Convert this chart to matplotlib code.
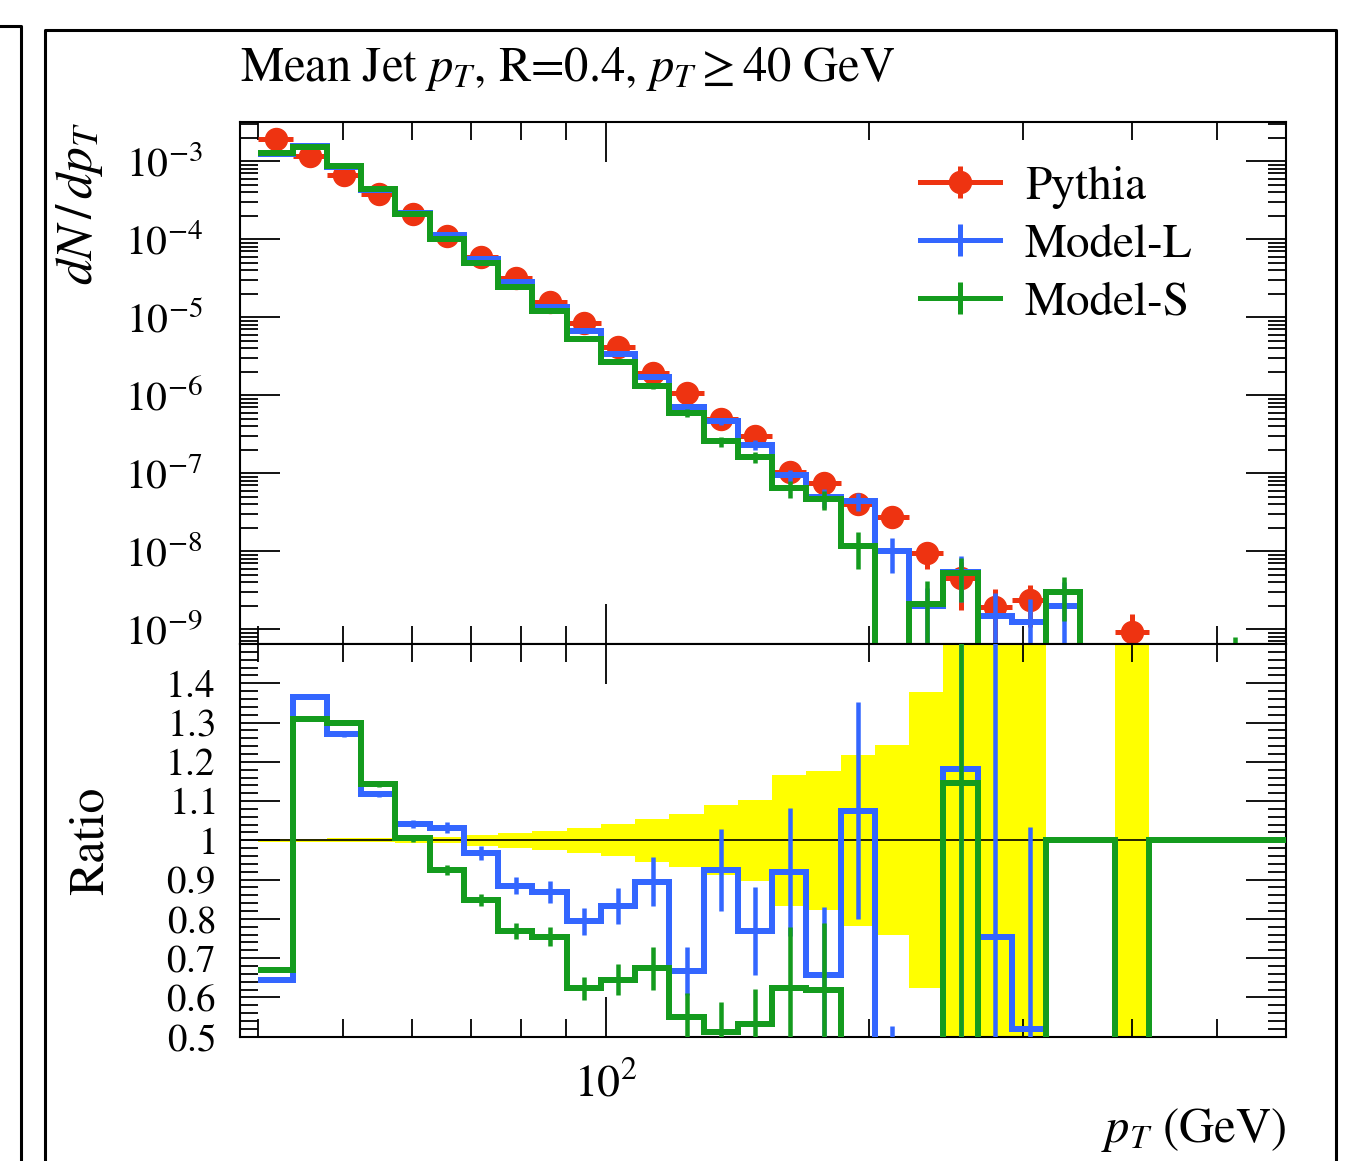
import numpy as np
import matplotlib
matplotlib.use("Agg")
import matplotlib.pyplot as plt
from matplotlib.lines import Line2D
from matplotlib.ticker import LogLocator, NullFormatter, FixedLocator, FixedFormatter, MultipleLocator

plt.rcParams['font.family'] = ['STIXGeneral', 'DejaVu Serif']
plt.rcParams['mathtext.fontset'] = 'stix'

# 30 log bins in jet pT, 40-600 GeV
edges = np.geomspace(40, 600, 31)

pythia = [1.94e-3, 1.16e-3, 6.63e-4, 3.82e-4, 2.12e-4, 1.11e-4, 5.88e-5, 3.20e-5,
          1.58e-5, 8.47e-6, 4.12e-6, 1.94e-6, 1.08e-6, 5.03e-7, 3.04e-7, 1.03e-7,
          7.53e-8, 4.09e-8, 2.79e-8, 9.6e-9, 4.6e-9, 1.95e-9, 2.41e-9, 0, 0,
          9.4e-10, 0, 0, 0, 0]
pythia_err = [7.8e-6, 4.6e-6, 3.3e-6, 1.9e-6, 1.27e-6, 8.9e-7, 8.0e-7, 6.1e-7,
              3.95e-7, 2.63e-7, 1.69e-7, 1.07e-7, 7.2e-8, 4.5e-8, 3.16e-8, 1.71e-8,
              1.33e-8, 8.9e-9, 6.75e-9, 3.62e-9, 2.8e-9, 1.3e-9, 1.33e-9, 0, 0,
              6.4e-10, 0, 0, 0, 0]

model_l = [1.251e-3, 1.582e-3, 8.42e-4, 4.27e-4, 2.21e-4, 1.146e-4, 5.69e-5, 2.83e-5,
           1.371e-5, 6.72e-6, 3.43e-6, 1.736e-6, 7.20e-7, 4.65e-7, 2.34e-7, 9.46e-8,
           4.94e-8, 4.40e-8, 1.00e-8, 1.97e-9, 5.44e-9, 1.47e-9, 1.25e-9, 2.0e-9, 0,
           0, 0, 0, 0, 0]
model_l_err = [7.8e-6, 5.8e-6, 4.0e-6, 2.7e-6, 2.1e-6, 1.55e-6, 1.06e-6, 7.0e-7,
               4.4e-7, 2.9e-7, 1.85e-7, 1.22e-7, 6.6e-8, 5.2e-8, 3.4e-8, 1.68e-8,
               1.32e-8, 1.13e-8, 4.7e-9, 1.4e-9, 3.2e-9, 1.5e-9, 1.24e-9, 2.0e-9, 0,
               0, 0, 0, 0, 0]

model_s = [1.30e-3, 1.518e-3, 8.61e-4, 4.37e-4, 2.13e-4, 1.026e-4, 4.99e-5, 2.46e-5,
           1.193e-5, 5.28e-6, 2.66e-6, 1.308e-6, 5.95e-7, 2.58e-7, 1.62e-7, 6.42e-8,
           4.66e-8, 1.18e-8, 0, 2.14e-9, 5.27e-9, 0, 0, 3.0e-9, 0,
           0, 0, 0, 4.0e-10, 0]
model_s_err = [7.8e-6, 5.8e-6, 4.0e-6, 2.7e-6, 2.1e-6, 1.33e-6, 8.8e-7, 6.4e-7,
               3.8e-7, 2.5e-7, 1.65e-7, 1.05e-7, 6.5e-8, 3.8e-8, 2.7e-8, 1.62e-8,
               1.28e-8, 5.8e-9, 0, 2.0e-9, 3.0e-9, 0, 0, 1.7e-9, 0,
               0, 0, 0, 3.9e-10, 0]

labels = ["Pythia", "Model-L", "Model-S"]
ratio_ticks = [0.5, 0.6, 0.7, 0.8, 0.9, 1.0, 1.1, 1.2, 1.3, 1.4]
ratio_ticklabels = ['0.5', '0.6', '0.7', '0.8', '0.9', '1', '1.1', '1.2', '1.3', '1.4']

RED = "#ee3311"
BLUE = "#3366ff"
GREEN = "#149b1e"

W, H = 1349, 1161
PX = 0.72  # points per pixel at dpi 100
FS = 34


def ratio(vals, errs, ref):
    # MC / reference, set to 1 where the reference bin is empty
    vals, errs, ref = map(np.asarray, (vals, errs, ref))
    r = np.ones_like(vals)
    e = np.zeros_like(vals)
    ok = ref > 0
    r[ok] = vals[ok] / ref[ok]
    e[ok] = errs[ok] / ref[ok]
    return r, e


def style_axis(ax):
    for s in ax.spines.values():
        s.set_linewidth(1.5)
    ax.tick_params(which='both', direction='in', top=True, right=True, width=1.3)
    ax.tick_params(which='major', length=40 * PX)
    ax.tick_params(which='minor', length=18 * PX)
    ax.set_xscale('log')
    ax.set_xlim(38.1, 600)
    ax.xaxis.set_major_locator(LogLocator(base=10))
    ax.xaxis.set_minor_locator(LogLocator(base=10, subs=np.arange(2, 10)))
    ax.xaxis.set_minor_formatter(NullFormatter())


fig = plt.figure(figsize=(W / 100, H / 100), dpi=100)
x0, x1 = 240 / W, 1286 / W
ax = fig.add_axes([x0, 1 - 644 / H, x1 - x0, (644 - 121.7) / H])
ax2 = fig.add_axes([x0, 1 - 1036.7 / H, x1 - x0, (1036.7 - 644) / H])

centers = 0.5 * (edges[:-1] + edges[1:])
p = np.asarray(pythia)
pe = np.asarray(pythia_err)
has = p > 0

# upper panel: spectra
ax.errorbar(centers[has], p[has], yerr=pe[has],
            xerr=[centers[has] - edges[:-1][has], edges[1:][has] - centers[has]],
            fmt='o', color=RED, ms=22 * PX, elinewidth=5 * PX, capsize=0, zorder=2)
for vals, errs, col, z in [(model_l, model_l_err, BLUE, 3), (model_s, model_s_err, GREEN, 4)]:
    v = np.asarray(vals)
    e = np.asarray(errs)
    ax.stairs(v, edges, baseline=None, color=col, lw=6 * PX, zorder=z)
    m = e > 0
    ax.errorbar(centers[m], v[m], yerr=e[m], fmt='none', ecolor=col,
                elinewidth=4.5 * PX, capsize=0, zorder=z)

ax.set_yscale('log')
ax.set_ylim(10 ** -9.187, 10 ** -2.491)
style_axis(ax)
ax.yaxis.set_major_locator(LogLocator(base=10, numticks=20))
ax.yaxis.set_minor_locator(LogLocator(base=10, subs=np.arange(2, 10), numticks=20))
ax.yaxis.set_minor_formatter(NullFormatter())
ax.tick_params(axis='x', labelbottom=False)
ax.tick_params(axis='y', pad=27, labelsize=30)

ax.text(0.0, 1.100, r"Mean Jet $p_T$, R=0.4, $p_T \geq 40$ GeV", transform=ax.transAxes,
        ha='left', va='center', fontsize=FS + 1)
ax.text(-0.153, 1.0, r"$dN\,/\,dp_T$", transform=ax.transAxes, rotation=90,
        ha='center', va='top', fontsize=FS + 3)

handles = []
for col, mk in [(RED, 'o'), (BLUE, None), (GREEN, None)]:
    line = Line2D([], [], color=col, lw=5 * PX, marker=mk, ms=22 * PX)
    bar = Line2D([], [], color=col, ls='none', marker='|', ms=32 * PX, mew=5 * PX)
    handles.append((line, bar))
ax.legend(handles, labels, loc='upper left', bbox_to_anchor=(0.650, 0.916),
          frameon=False, fontsize=FS, borderpad=0, borderaxespad=0,
          handlelength=80 / (FS / PX), handletextpad=0.53, labelspacing=0.32)

# lower panel: ratio to Pythia
band = np.where(has, pe / np.where(has, p, 1), 0)
ax2.stairs(1 + band, edges, baseline=1 - band, fill=True, color='#ffff00', lw=0, zorder=1)
ax2.axhline(1.0, color='black', lw=1.2, zorder=2)
for vals, errs, col, z in [(model_l, model_l_err, BLUE, 3), (model_s, model_s_err, GREEN, 4)]:
    r, e = ratio(vals, errs, p)
    ax2.stairs(r, edges, baseline=None, color=col, lw=6 * PX, zorder=z)
    m = e > 0
    ax2.errorbar(centers[m], r[m], yerr=e[m], fmt='none', ecolor=col,
                 elinewidth=4.5 * PX, capsize=0, zorder=z)

ax2.set_ylim(0.5, 1.5)
style_axis(ax2)
ax2.yaxis.set_major_locator(FixedLocator(ratio_ticks))
ax2.yaxis.set_major_formatter(FixedFormatter(['$%s$' % s for s in ratio_ticklabels]))
ax2.yaxis.set_minor_locator(MultipleLocator(0.02))
ax2.tick_params(axis='y', pad=18, labelsize=28)
ax2.tick_params(axis='x', pad=20, labelsize=33)
ax2.text(-0.143, 0.5, "Ratio", transform=ax2.transAxes, rotation=90,
         ha='center', va='center', fontsize=FS + 2)
ax2.text(1.0, -0.238, r"$p_T$ (GeV)", transform=ax2.transAxes,
         ha='right', va='center', fontsize=FS + 1)

# panel frames
fl = dict(color='black', lw=2.2, transform=fig.transFigure, clip_on=False)
fig.add_artist(Line2D([45 / W, 45 / W, 1336 / W, 1336 / W], [0, 1 - 30 / H, 1 - 30 / H, 0], **fl))
fig.add_artist(Line2D([0, 21 / W, 21 / W], [1 - 26 / H, 1 - 26 / H, 0], **fl))

fig.savefig("out.png", dpi=100)
